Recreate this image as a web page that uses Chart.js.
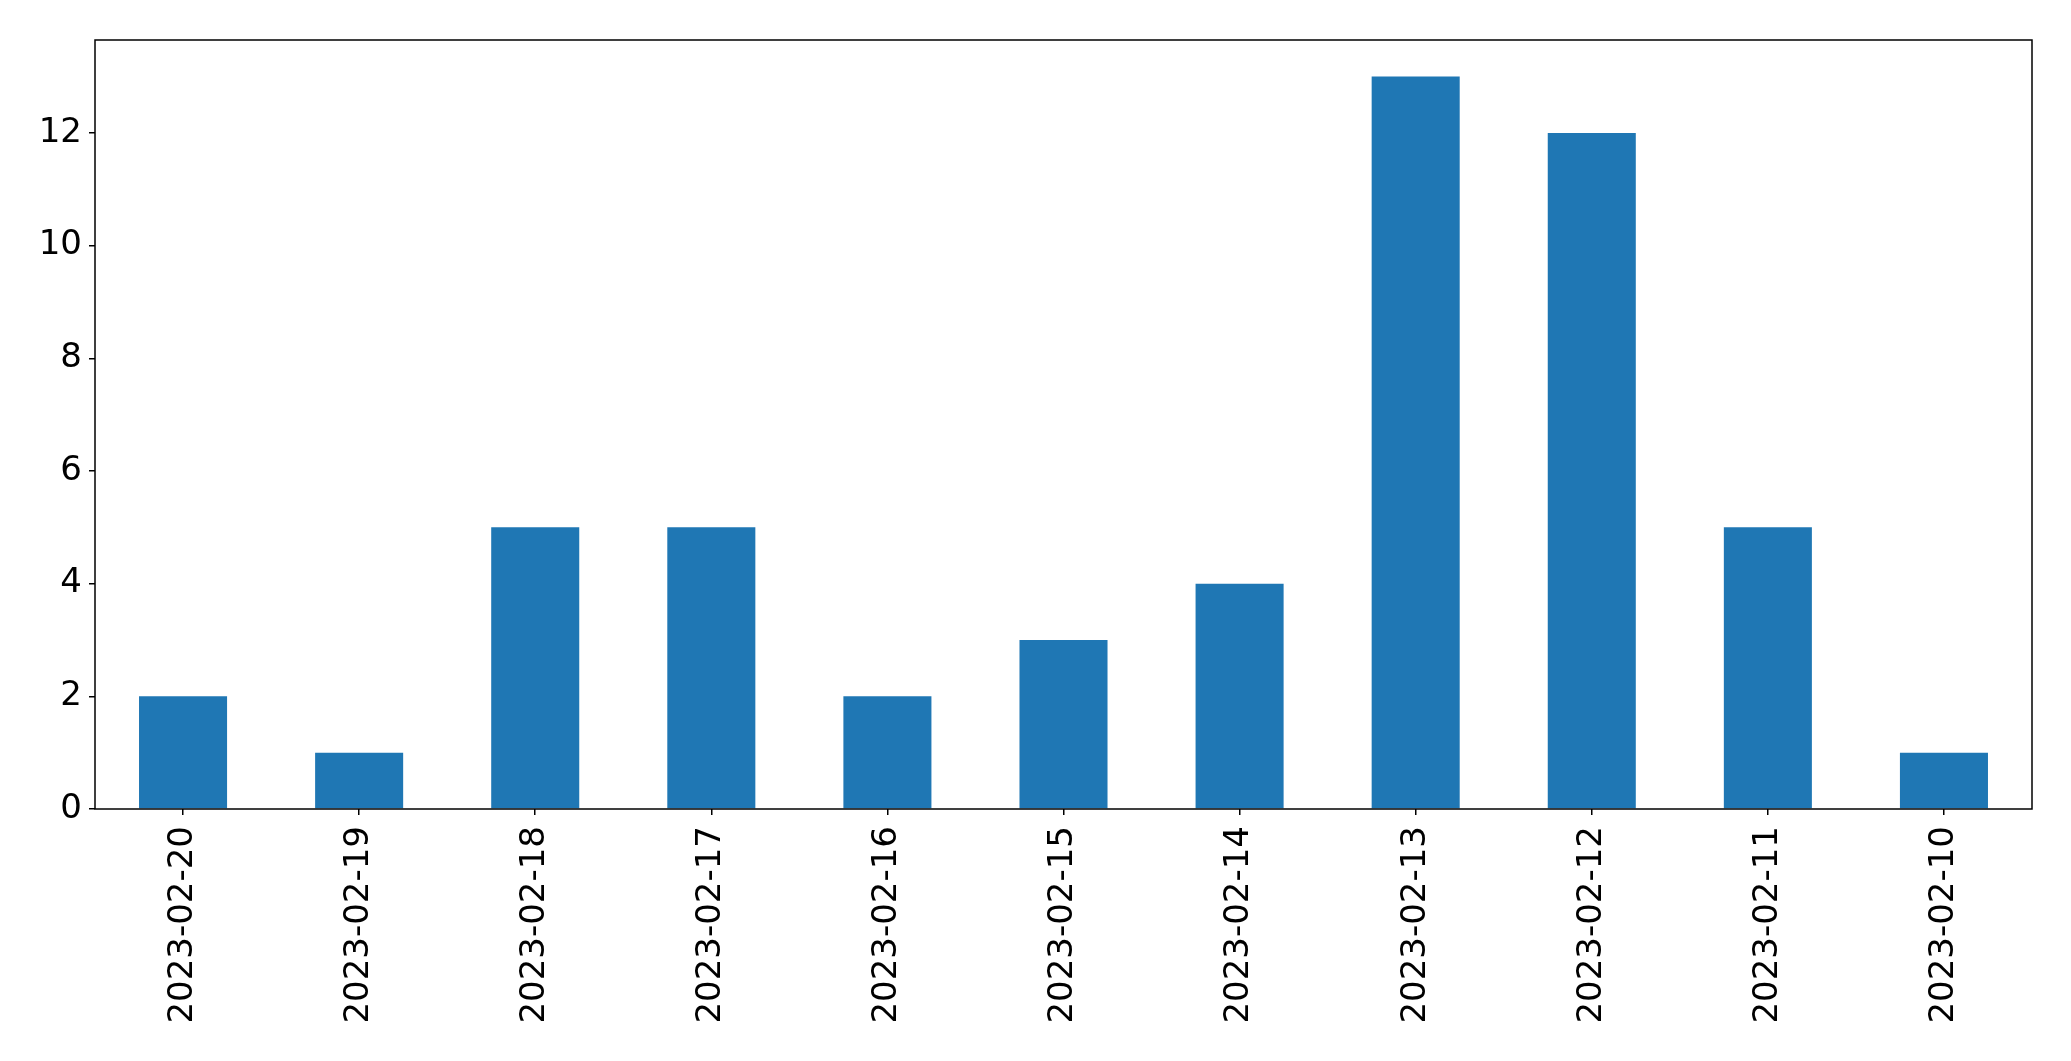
<!DOCTYPE html>
<html>
<head>
<meta charset="utf-8">
<script src="https://cdn.jsdelivr.net/npm/chart.js@4"></script>
<style>
  body { margin: 0; background: #fff; }
  #wrap { width: 2071px; height: 1061px; }
</style>
</head>
<body>
<div id="wrap"><canvas id="barChart" width="2071" height="1061"></canvas></div>
<script>
const dates = ["2023-02-20", "2023-02-19", "2023-02-18", "2023-02-17", "2023-02-16", "2023-02-15",
               "2023-02-14", "2023-02-13", "2023-02-12", "2023-02-11", "2023-02-10"];
const counts = [2, 1, 5, 5, 2, 3, 4, 13, 12, 5, 1];
const yTicks = [0, 2, 4, 6, 8, 10, 12];

// box around the plot area, like matplotlib spines
const frame = {
    id: "frame",
    afterDraw(chart) {
        const a = chart.chartArea;
        const ctx = chart.ctx;
        ctx.save();
        ctx.strokeStyle = "#000";
        ctx.lineWidth = 1.5;
        ctx.strokeRect(a.left, a.top, a.right - a.left, a.bottom - a.top);
        ctx.restore();
    }
};

const tickFont = { family: "DejaVu Sans", size: 34 };

new Chart(document.getElementById("barChart").getContext("2d"), {
    type: "bar",
    data: {
        labels: dates,
        datasets: [{
            data: counts,
            backgroundColor: "#1f77b4",
            categoryPercentage: 1.0,
            barPercentage: 0.5
        }]
    },
    options: {
        responsive: false,
        animation: false,
        layout: { padding: { top: 40, right: 39, left: 0, bottom: 0 } },
        plugins: { legend: { display: false }, tooltip: { enabled: false } },
        scales: {
            x: {
                offset: true,
                grid: { display: true, offset: false, drawOnChartArea: false, drawTicks: true, tickLength: 6, color: "#000", lineWidth: 1.5 },
                border: { display: false },
                ticks: { color: "#000", font: tickFont, maxRotation: 90, minRotation: 90, autoSkip: false, padding: 11 },
                afterFit(scale) { scale.height = 252; }
            },
            y: {
                min: 0,
                max: 13.65,
                grid: { display: true, drawOnChartArea: false, drawTicks: true, tickLength: 6, color: "#000", lineWidth: 1.5 },
                border: { display: false },
                afterBuildTicks(scale) { scale.ticks = yTicks.map(v => ({ value: v })); },
                ticks: { color: "#000", font: tickFont, padding: 7 },
                afterFit(scale) { scale.width = 95; }
            }
        }
    },
    plugins: [frame]
});
</script>
</body>
</html>
